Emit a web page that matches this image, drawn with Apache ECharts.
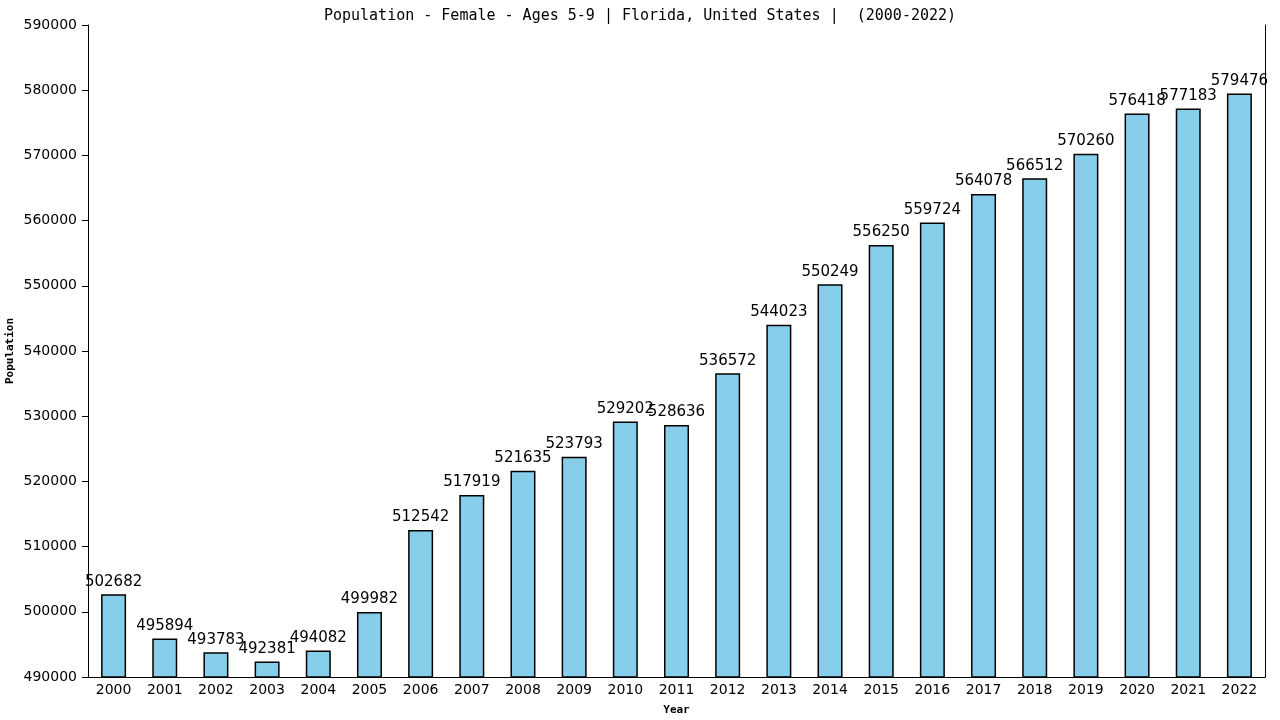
<!DOCTYPE html>
<html>
<head>
<meta charset="utf-8">
<script src="https://cdn.jsdelivr.net/npm/echarts@6/dist/echarts.min.js"></script>
<style>
  html, body { margin: 0; padding: 0; background: #fff; }
  #main { width: 1280px; height: 720px; }
</style>
</head>
<body>
<div id="main"></div>
<script>
// data
var years = ['2000', '2001', '2002', '2003', '2004', '2005', '2006', '2007', '2008', '2009', '2010', '2011',
  '2012', '2013', '2014', '2015', '2016', '2017', '2018', '2019', '2020', '2021', '2022'];
var population = [502682, 495894, 493783, 492381, 494082, 499982, 512542, 517919, 521635, 523793, 529202, 528636,
  536572, 544023, 550249, 556250, 559724, 564078, 566512, 570260, 576418, 577183, 579476];
var yMin = 490000;
var yMax = 590000;
var yStep = 10000;

var chart = echarts.init(document.getElementById('main'));
var option = {
  animation: false,
  backgroundColor: '#ffffff',
  title: {
    text: 'Population - Female - Ages 5-9 | Florida, United States |  (2000-2022)',
    left: 'center',
    top: 4,
    textStyle: { fontFamily: 'DejaVu Sans Mono', fontSize: 15, fontWeight: 'normal', color: '#000' }
  },
  grid: { left: 88, right: 15, top: 25, bottom: 43, outerBoundsMode: 'none', containLabel: false },
  xAxis: {
    type: 'category',
    data: years,
    name: 'Year',
    nameLocation: 'middle',
    nameGap: 28,
    nameTextStyle: { fontFamily: 'DejaVu Sans Mono', fontSize: 11, fontWeight: 'bold', color: '#000' },
    axisLine: { lineStyle: { color: '#000', width: 1 } },
    axisTick: { show: false },
    axisLabel: { fontFamily: 'DejaVu Sans', fontSize: 14, color: '#000', margin: 6 }
  },
  yAxis: [{
    type: 'value',
    min: yMin,
    max: yMax,
    interval: yStep,
    name: 'Population',
    nameLocation: 'middle',
    nameGap: 72,
    nameMoveOverlap: false,
    nameTextStyle: { fontFamily: 'DejaVu Sans Mono', fontSize: 11, fontWeight: 'bold', color: '#000' },
    axisLine: { show: true, lineStyle: { color: '#000', width: 1 } },
    axisTick: { show: true, length: 6, lineStyle: { color: '#000' } },
    axisLabel: {
      fontFamily: 'DejaVu Sans', fontSize: 14, color: '#000', margin: 11,
      formatter: function (v) { return String(v); }
    },
    splitLine: { show: false }
  }, {
    type: 'value',
    position: 'right',
    min: yMin,
    max: yMax,
    interval: yStep,
    axisLine: { show: true, lineStyle: { color: '#000', width: 1 } },
    axisTick: { show: false },
    axisLabel: { show: false },
    splitLine: { show: false }
  }],
  series: [{
    type: 'bar',
    data: population,
    barWidth: 25,
    itemStyle: { color: '#87ceeb', borderColor: '#000', borderWidth: 1.5 },
    label: {
      show: true,
      position: 'top',
      distance: 5,
      fontFamily: 'DejaVu Sans',
      fontSize: 15,
      color: '#000'
    }
  }]
};
chart.setOption(option);
</script>
</body>
</html>
